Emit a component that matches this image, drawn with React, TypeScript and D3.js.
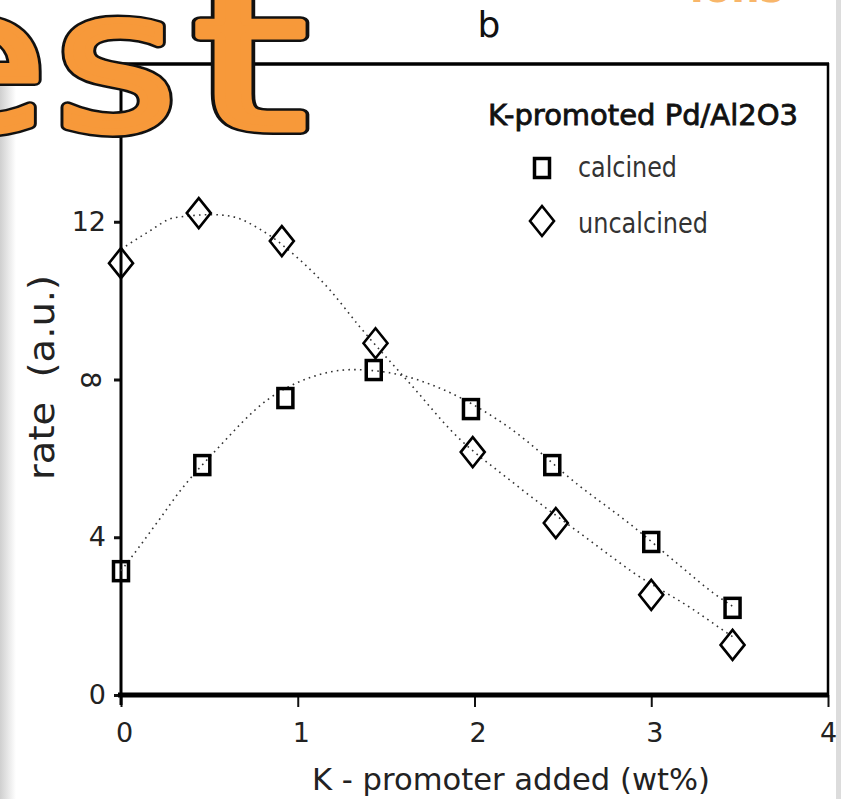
import * as d3 from "d3";
import { useEffect, useRef } from "react";

// axis ticks
const xTicks = [0, 1, 2, 3, 4];
const yTicks = [0, 4, 8, 12, 16];

// measured points
const calcinedK = [0, 0.46, 0.93, 1.43, 1.98, 2.44, 3.0, 3.46];
const calcinedRate = [3.14, 5.83, 7.53, 8.24, 7.25, 5.83, 3.88, 2.21];
const uncalcinedK = [0, 0.44, 0.91, 1.44, 1.99, 2.46, 3.0, 3.46];
const uncalcinedRate = [10.95, 12.22, 11.51, 8.92, 6.16, 4.36, 2.54, 1.27];

// dotted trend lines
const calcinedTrendK = [0, 0.06, 0.22, 0.33, 0.54, 0.83, 1.07, 1.31, 1.52, 1.85, 2.19, 2.6, 2.87, 3.17, 3.35, 3.46];
const calcinedTrendRate = [3.15, 3.5, 4.47, 5.15, 6.22, 7.49, 8.05, 8.25, 8.17, 7.69, 6.8, 5.28, 4.37, 3.25, 2.59, 2.25];
const uncalcinedTrendK = [0, 0.15, 0.3, 0.52, 0.63, 0.79, 1.01, 1.18, 1.35, 1.65, 1.88, 2.22, 2.67, 2.9, 3.24, 3.43, 3.46];
const uncalcinedTrendRate = [11.3, 11.73, 12.1, 12.18, 12.13, 11.8, 11.04, 10.28, 9.34, 7.82, 6.65, 5.38, 3.86, 3.1, 2.16, 1.57, 1.48];

const legendTitle = "K-promoted Pd/Al2O3";
const seriesNames = ["calcined", "uncalcined"];

const W = 841;
const H = 799;
const FONT = "DejaVu Sans, Verdana, sans-serif";

function App() {
  const ref = useRef<SVGSVGElement | null>(null);

  useEffect(() => {
    drawChart();
  }, []);

  const drawChart = () => {
    const svg = d3.select(ref.current);
    svg.selectAll("*").remove();

    const plot = { left: 121, right: 828, top: 64, bottom: 695 };

    const x = d3.scaleLinear().domain([0, 4]).range([plot.left, plot.right]);
    const y = d3.scaleLinear().domain([0, 16]).range([plot.bottom, plot.top]);

    // background
    svg.append("rect").attr("width", W).attr("height", H).attr("fill", "#fff");
    const defs = svg.append("defs");
    const grad = defs.append("linearGradient").attr("id", "leftShade").attr("x1", 0).attr("x2", 1);
    grad.append("stop").attr("offset", "0%").attr("stop-color", "#cfcfcf");
    grad.append("stop").attr("offset", "100%").attr("stop-color", "#ffffff");
    svg.append("rect").attr("x", 0).attr("y", 75).attr("width", 16).attr("height", H - 75).attr("fill", "url(#leftShade)");
    svg.append("rect").attr("x", 836).attr("y", 0).attr("width", 5).attr("height", H).attr("fill", "#dcdcdc");

    // title
    svg.append("text")
      .attr("x", 489).attr("y", 37)
      .attr("text-anchor", "middle")
      .attr("font-family", FONT).attr("font-size", 36)
      .attr("fill", "#111")
      .text("b");

    // y axis ticks + labels
    const yAxis = svg.append("g")
      .attr("transform", `translate(${plot.left},0)`)
      .call(d3.axisLeft(y).tickValues(yTicks).tickSize(7).tickPadding(8)
        .tickFormat((d) => (d === 16 ? "" : String(d))));
    yAxis.select(".domain").remove();
    yAxis.selectAll(".tick line").attr("stroke", "#111").attr("stroke-width", 3);
    yAxis.selectAll(".tick text")
      .attr("font-family", FONT).attr("font-size", 27).attr("fill", "#222");
    // the "8" label is printed sideways in the original
    yAxis.selectAll<SVGTextElement, number>(".tick text")
      .filter((d) => d === 8)
      .attr("x", null).attr("dy", "0.35em")
      .attr("text-anchor", "middle")
      .attr("transform", "translate(-31,0) rotate(90)");

    // x axis ticks + labels
    const xAxis = svg.append("g")
      .attr("transform", `translate(0,${plot.bottom})`)
      .call(d3.axisBottom(x).tickValues(xTicks).tickSize(12).tickPadding(16).tickFormat(d3.format("d")));
    xAxis.select(".domain").remove();
    xAxis.selectAll(".tick line").attr("stroke", "#111").attr("stroke-width", 2);
    xAxis.selectAll<SVGTextElement, number>(".tick text")
      .attr("font-family", FONT).attr("font-size", 27).attr("fill", "#222")
      .attr("dx", (d) => (d === 4 ? 0 : 3));

    // frame
    const frame = svg.append("g").attr("stroke", "#000").attr("fill", "none");
    frame.append("line").attr("x1", plot.left - 6).attr("x2", plot.right + 1).attr("y1", plot.top).attr("y2", plot.top).attr("stroke-width", 3.5);
    frame.append("line").attr("x1", plot.right).attr("x2", plot.right).attr("y1", plot.top - 1).attr("y2", plot.bottom).attr("stroke-width", 2.5);
    frame.append("line").attr("x1", plot.left).attr("x2", plot.left).attr("y1", plot.top).attr("y2", plot.bottom + 10).attr("stroke-width", 3);
    frame.append("line").attr("x1", plot.left - 3).attr("x2", plot.right + 1).attr("y1", plot.bottom).attr("y2", plot.bottom).attr("stroke-width", 5);

    // trend lines
    const line = d3.line<[number, number]>()
      .x((d) => x(d[0]))
      .y((d) => y(d[1]))
      .curve(d3.curveMonotoneX);

    const trends = [
      d3.zip(calcinedTrendK, calcinedTrendRate) as [number, number][],
      d3.zip(uncalcinedTrendK, uncalcinedTrendRate) as [number, number][],
    ];
    trends.forEach((t) => {
      svg.append("path")
        .datum(t)
        .attr("fill", "none")
        .attr("stroke", "#333")
        .attr("stroke-width", 1.6)
        .attr("stroke-dasharray", "1.6 4.2")
        .attr("d", line);
    });

    // markers
    const square = (g: d3.Selection<SVGGElement, unknown, null, undefined>, cx: number, cy: number) =>
      g.append("rect")
        .attr("x", cx - 7.5).attr("y", cy - 9.5)
        .attr("width", 15).attr("height", 19)
        .attr("fill", "none").attr("stroke", "#000").attr("stroke-width", 3.5);
    const diamond = (g: d3.Selection<SVGGElement, unknown, null, undefined>, cx: number, cy: number) =>
      g.append("path")
        .attr("d", `M${cx},${cy - 15}L${cx + 12},${cy}L${cx},${cy + 15}L${cx - 12},${cy}Z`)
        .attr("fill", "none").attr("stroke", "#000").attr("stroke-width", 2.6)
        .attr("stroke-linejoin", "miter");

    const marks = svg.append("g") as d3.Selection<SVGGElement, unknown, null, undefined>;
    calcinedK.forEach((k, i) => square(marks, x(k), y(calcinedRate[i])));
    uncalcinedK.forEach((k, i) => diamond(marks, x(k), y(uncalcinedRate[i])));

    // legend
    const legend = svg.append("g") as d3.Selection<SVGGElement, unknown, null, undefined>;
    legend.append("text")
      .attr("x", 488).attr("y", 125)
      .attr("font-family", FONT).attr("font-size", 28)
      .attr("stroke", "#111").attr("stroke-width", 0.8)
      .attr("textLength", 310).attr("lengthAdjust", "spacingAndGlyphs")
      .attr("fill", "#111")
      .text(legendTitle);
    square(legend, 542, 168);
    diamond(legend, 542, 221);
    legend.append("text")
      .attr("x", 578).attr("y", 177)
      .attr("font-family", FONT).attr("font-size", 28)
      .attr("textLength", 99).attr("lengthAdjust", "spacingAndGlyphs")
      .attr("fill", "#333")
      .text(seriesNames[0]);
    legend.append("text")
      .attr("x", 578).attr("y", 233)
      .attr("font-family", FONT).attr("font-size", 28)
      .attr("textLength", 130).attr("lengthAdjust", "spacingAndGlyphs")
      .attr("fill", "#333")
      .text(seriesNames[1]);

    // axis titles
    svg.append("text")
      .attr("x", 312).attr("y", 790)
      .attr("font-family", FONT).attr("font-size", 31)
      .attr("textLength", 398).attr("lengthAdjust", "spacingAndGlyphs")
      .attr("fill", "#222")
      .text("K - promoter added (wt%)");
    svg.append("text")
      .attr("transform", "translate(54,480) rotate(-90)")
      .attr("font-family", FONT).attr("font-size", 36)
      .attr("textLength", 205).attr("lengthAdjust", "spacingAndGlyphs")
      .attr("fill", "#222")
      .attr("xml:space", "preserve")
      .text("rate  (a.u.)");

    // orange slide lettering over the corner: black outline layer, then orange body
    const letters: [string, string][] = [
      ["e", "translate(-24,129) scale(1.18,1)"],
      ["s", "translate(116,129) scale(1.2,1)"],
      ["t", "translate(250,129) scale(1.5,1)"],
    ];
    const layers = [
      { stroke: "#111", width: 12 },
      { stroke: "#F7993A", width: 7 },
    ];
    layers.forEach((layer) => {
      const g = svg.append("g")
        .attr("font-family", "DejaVu Sans, sans-serif")
        .attr("font-size", 195)
        .attr("fill", "#F7993A")
        .attr("stroke", layer.stroke)
        .attr("stroke-width", layer.width)
        .attr("stroke-linejoin", "round")
        .attr("stroke-linecap", "round")
        .attr("text-anchor", "middle");
      letters.forEach(([ch, tr]) => g.append("text").attr("transform", tr).text(ch));
    });

    svg.append("text")
      .attr("x", 690).attr("y", 2)
      .attr("font-family", "DejaVu Sans, sans-serif").attr("font-weight", "bold")
      .attr("font-size", 40).attr("fill", "#F7A545").attr("opacity", 0.8)
      .text("ions");
  };

  return (
    <div>
      <svg
        ref={ref}
        width={W}
        height={H}
        style={{ position: "absolute", left: 0, top: 0, display: "block" }}
      />
    </div>
  );
}
export default App;
